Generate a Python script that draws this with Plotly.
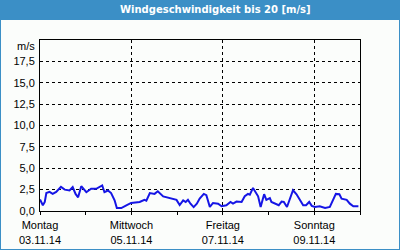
import plotly.graph_objects as go

times = [
    "2014-11-03 00:00", "2014-11-03 01:30", "2014-11-03 02:30", "2014-11-03 03:20",
    "2014-11-03 05:00", "2014-11-03 06:40", "2014-11-03 08:30", "2014-11-03 11:00",
    "2014-11-03 13:00", "2014-11-03 15:30", "2014-11-03 17:10", "2014-11-03 18:40",
    "2014-11-03 20:00", "2014-11-03 21:40", "2014-11-04 00:20", "2014-11-04 02:50",
    "2014-11-04 05:30", "2014-11-04 07:20", "2014-11-04 08:40", "2014-11-04 09:50",
    "2014-11-04 11:40", "2014-11-04 13:20", "2014-11-04 15:10", "2014-11-04 16:20",
    "2014-11-04 18:40", "2014-11-04 21:20", "2014-11-04 23:50", "2014-11-05 04:20",
    "2014-11-05 06:50", "2014-11-05 07:50", "2014-11-05 09:40", "2014-11-05 12:10",
    "2014-11-05 13:50", "2014-11-05 16:40", "2014-11-05 19:10", "2014-11-05 21:50",
    "2014-11-05 23:40", "2014-11-06 01:20", "2014-11-06 03:10", "2014-11-06 04:30",
    "2014-11-06 05:40", "2014-11-06 07:00", "2014-11-06 08:40", "2014-11-06 10:20",
    "2014-11-06 11:50", "2014-11-06 14:00", "2014-11-06 15:20", "2014-11-06 17:10",
    "2014-11-06 18:50", "2014-11-06 21:30", "2014-11-06 23:20", "2014-11-07 01:50",
    "2014-11-07 04:00", "2014-11-07 05:20", "2014-11-07 07:10", "2014-11-07 09:50",
    "2014-11-07 11:30", "2014-11-07 13:10", "2014-11-07 14:10", "2014-11-07 15:50",
    "2014-11-07 17:40", "2014-11-07 18:30", "2014-11-07 19:50", "2014-11-07 21:40",
    "2014-11-07 22:50", "2014-11-08 00:40", "2014-11-08 01:30", "2014-11-08 03:50",
    "2014-11-08 05:20", "2014-11-08 06:50", "2014-11-08 08:00", "2014-11-08 09:40",
    "2014-11-08 11:30", "2014-11-08 12:50", "2014-11-08 14:40", "2014-11-08 16:20",
    "2014-11-08 18:10", "2014-11-08 19:40", "2014-11-08 21:20", "2014-11-08 22:40",
    "2014-11-09 00:20", "2014-11-09 02:50", "2014-11-09 05:40", "2014-11-09 08:10",
    "2014-11-09 09:50", "2014-11-09 11:20", "2014-11-09 13:10", "2014-11-09 14:20",
    "2014-11-09 17:00", "2014-11-09 18:40", "2014-11-09 20:30", "2014-11-09 23:10",
]
speed = [
    1.34, 0.67, 1.06, 2.1, 2.23, 2.0, 2.23, 2.82, 2.5, 2.4, 2.8, 2.0, 1.6, 2.9,
    2.2, 2.6, 2.6, 2.8, 3.0, 2.2, 2.4, 2.1, 1.25, 0.35, 0.35, 0.67, 0.94, 1.05,
    1.3, 1.2, 2.1, 2.0, 2.3, 1.7, 1.55, 1.4, 1.3, 0.7, 1.25, 1.05, 1.3, 0.85,
    0.45, 0.85, 1.45, 2.0, 1.85, 0.47, 0.94, 0.86, 0.55, 0.67, 1.06, 0.86, 1.1,
    1.06, 1.72, 2.0, 1.9, 2.7, 2.0, 1.72, 0.47, 1.96, 1.3, 1.5, 1.06, 0.86, 0.67,
    1.1, 1.06, 0.47, 1.72, 2.43, 1.96, 1.3, 0.67, 0.67, 1.06, 0.6, 0.47, 0.55,
    0.35, 0.47, 1.25, 2.0, 1.96, 1.45, 1.3, 0.86, 0.55, 0.55,
]

x_tick_vals = ["2014-11-03", "2014-11-05", "2014-11-07", "2014-11-09"]
x_tick_text = ["Montag<br>03.11.14", "Mittwoch<br>05.11.14", "Freitag<br>07.11.14", "Sonntag<br>09.11.14"]
y_tick_vals = [0, 2.5, 5, 7.5, 10, 12.5, 15, 17.5]
y_tick_text = ["0,0", "2,5", "5,0", "7,5", "10,0", "12,5", "15,0", "17,5"]
title_text = "Windgeschwindigkeit bis 20 [m/s]"
unit_text = "m/s"

BLUE = "#3B8FC6"
BG = "#FBFDFB"
FONT = "Liberation Sans"

fig = go.Figure()
fig.add_trace(go.Scatter(x=times, y=speed, mode="lines",
                         line=dict(color="#1515E5", width=2), hoverinfo="skip"))

W, H = 400, 250
ML, MR, MT, MB = 40, 40, 40, 39
pw, ph = W - ML - MR, H - MT - MB

def px(xp):
    return (xp - ML) / pw

def py(yp):
    return (H - MB - yp) / ph

fig.update_layout(
    width=W, height=H,
    margin=dict(l=ML, r=MR, t=MT, b=MB, autoexpand=False),
    paper_bgcolor=BG, plot_bgcolor=BG,
    showlegend=False,
    font=dict(family=FONT, size=11, color="black"),
    xaxis=dict(
        type="date", range=["2014-11-03", "2014-11-10"],
        tickmode="array", tickvals=x_tick_vals, ticktext=x_tick_text,
        ticks="outside", ticklen=3, tickcolor="black",
        showgrid=True, gridcolor="black", griddash="3px,3px", gridwidth=1,
        showline=True, linecolor="black", linewidth=1, mirror=True,
        zeroline=False, ticklabelstandoff=1, automargin=False,
        minor=dict(dtick=86400000, ticks="outside", ticklen=3, tickcolor="black", showgrid=False),
        tickfont=dict(family=FONT, size=11, color="black"),
    ),
    yaxis=dict(
        range=[0, 20],
        tickmode="array", tickvals=y_tick_vals, ticktext=y_tick_text,
        ticks="", showgrid=True, gridcolor="black", griddash="3px,3px", gridwidth=1,
        showline=True, linecolor="black", linewidth=1, mirror=True,
        zeroline=False, ticklabelstandoff=2, automargin=False,
        tickfont=dict(family=FONT, size=11, color="black"),
    ),
    shapes=[
        dict(type="rect", xref="paper", yref="paper",
             x0=px(0), x1=px(W), y0=py(20), y1=py(0),
             fillcolor=BLUE, line=dict(width=0), layer="above"),
        dict(type="rect", xref="paper", yref="paper",
             x0=px(0), x1=px(W), y0=py(H), y1=py(0),
             fillcolor="rgba(0,0,0,0)", line=dict(color=BLUE, width=2), layer="above"),
    ],
    annotations=[
        dict(text="<b>" + title_text + "</b>", xref="paper", yref="paper",
             x=px(215), y=py(10), xanchor="center", yanchor="middle", showarrow=False,
             font=dict(family="DejaVu Sans", size=10, color="white")),
        dict(text=unit_text, xref="paper", yref="paper",
             x=px(37), y=py(46), xanchor="right", yanchor="middle", showarrow=False,
             font=dict(family=FONT, size=11, color="black")),
    ],
)

fig.write_html("out.html")
